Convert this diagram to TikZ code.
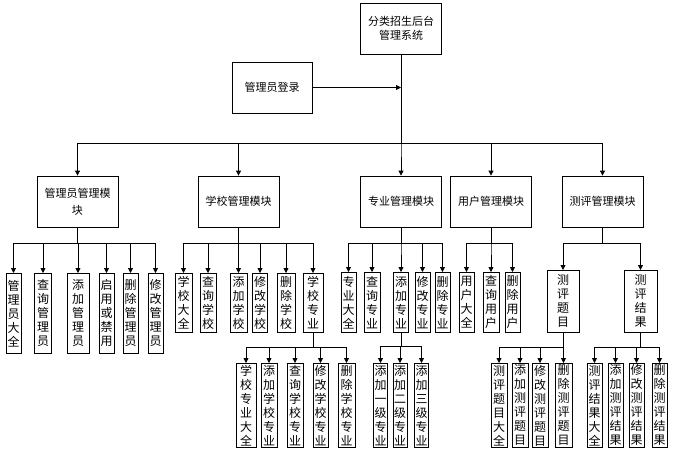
\documentclass[tikz,border=0pt]{standalone}
\usepackage{fontspec}
\setmainfont{Noto Sans CJK SC}
\usetikzlibrary{arrows.meta}

\makeatletter
\def\vt#1{\expandafter\vt@a#1\relax}
\def\vt@a#1#2{#1\ifx\relax#2\else\\\expandafter\vt@a\expandafter#2\fi}
\makeatother

\begin{document}
\begin{tikzpicture}[x=1pt, y=-1pt, line width=0.8pt,
    >={Triangle[length=5pt, width=5pt]},
    box/.style={draw, align=center, minimum width=81pt, minimum height=51pt,
      font=\fontsize{11}{14}\selectfont},
    leaf/.style={draw, anchor=north, align=center, inner xsep=1pt, inner ysep=1pt,
      font=\fontsize{12}{14}\selectfont}]
  \useasboundingbox (0,0) rectangle (680,459);
  \node[box] (root) at (401,28.5) {分类招生后台\\管理系统};
  \node[box, minimum width=80pt] (login) at (272,87.5) {管理员登录};
  \node[box] (admin) at (77.5,201.5) {管理员管理模\\[3pt]块};
  \node[box] (school) at (238.5,201.5) {学校管理模块};
  \node[box] (major) at (401,201.5) {专业管理模块};
  \node[box] (user) at (491,201.5) {用户管理模块};
  \node[box] (eval) at (602.5,201.5) {测评管理模块};
  \draw[->] (login) -- (login -| root.south);
  \foreach \m in {admin, school, major, user, eval}
    \draw[->] (root.south) -- ++(0,89) -| (\m.north);

  \foreach \i/\x/\w/\txt in {1/13.5/15/管理员大全, 2/43/17/查询管理员, 3/78/22/添加管理员,
      4/106.5/15/启用或禁用, 5/130.5/15/删除管理员, 6/155.5/15/修改管理员}{
    \node[leaf, minimum width=\w pt, minimum height=80pt] (admin\i) at (\x,273) {\vt{\txt}};
    \draw[->] (admin.south) -- ++(0,16) -| (admin\i.north);
  }
  \foreach \i/\x/\w/\txt in {1/183.5/17/学校大全, 2/208/16/查询学校, 3/238.5/17/添加学校,
      4/260/15/修改学校, 5/286/18/删除学校, 6/313/20/学校专业}{
    \node[leaf, minimum width=\w pt, minimum height=59pt] (school\i) at (\x,273) {\vt{\txt}};
    \draw[->] (school.south) -- ++(0,16) -| (school\i.north);
  }
  \foreach \i/\x/\w/\txt in {1/348.5/15/专业大全, 2/372/16/查询专业, 3/401/15/添加专业,
      4/422.5/15/修改专业, 5/442.5/15/删除专业}{
    \node[leaf, minimum width=\w pt, minimum height=60pt] (major\i) at (\x,272) {\vt{\txt}};
    \draw[->] (major.south) -- ++(0,16) -| (major\i.north);
  }
  \foreach \i/\x/\w/\txt in {1/466.5/15/用户大全, 2/491/16/查询用户, 3/512.5/15/删除用户}{
    \node[leaf, minimum width=\w pt, minimum height=60pt] (user\i) at (\x,272) {\vt{\txt}};
    \draw[->] (user.south) -- ++(0,16) -| (user\i.north);
  }
  \foreach \i/\x/\w/\txt in {1/563/32/测评题目, 2/640.5/33/测评结果}{
    \node[leaf, minimum width=\w pt, minimum height=62pt] (eval\i) at (\x,270) {\vt{\txt}};
    \draw[->] (eval.south) -- ++(0,16) -| (eval\i.north);
  }

  \foreach \i/\x/\w/\txt in {1/246/20/学校专业大全, 2/269/16/添加学校专业, 3/295/16/查询学校专业,
      4/320.5/15/修改学校专业, 5/346.5/17/删除学校专业}{
    \node[leaf, minimum width=\w pt, minimum height=84pt] (sm\i) at (\x,363) {\vt{\txt}};
    \draw[->] (school6.south) -- ++(0,15) -| (sm\i.north);
  }
  \foreach \i/\x/\w/\txt in {1/380.5/14/添加一级专业, 2/400/14/添加二级专业, 3/421.5/14/添加三级专业}{
    \node[leaf, minimum width=\w pt, minimum height=84pt] (add\i) at (\x,363) {\vt{\txt}};
    \draw[->] (major3.south) -- ++(0,14) -| (add\i.north);
  }
  \foreach \i/\x/\w/\txt in {1/499/16/测评题目大全, 2/520/16/添加测评题目, 3/540/16/修改测评题目,
      4/563.5/17/删除测评题目}{
    \node[leaf, minimum width=\w pt, minimum height=84pt] (que\i) at (\x,363) {\vt{\txt}};
    \draw[->] (eval1.south) -- ++(0,15) -| (que\i.north);
  }
  \foreach \i/\x/\w/\txt in {1/594.5/15/测评结果大全, 2/615.5/15/添加测评结果, 3/636.5/15/修改测评结果,
      4/659.5/15/删除测评结果}{
    \node[leaf, minimum width=\w pt, minimum height=84pt] (res\i) at (\x,363) {\vt{\txt}};
    \draw[->] (eval2.south) -- ++(0,15) -| (res\i.north);
  }
\end{tikzpicture}
\end{document}
